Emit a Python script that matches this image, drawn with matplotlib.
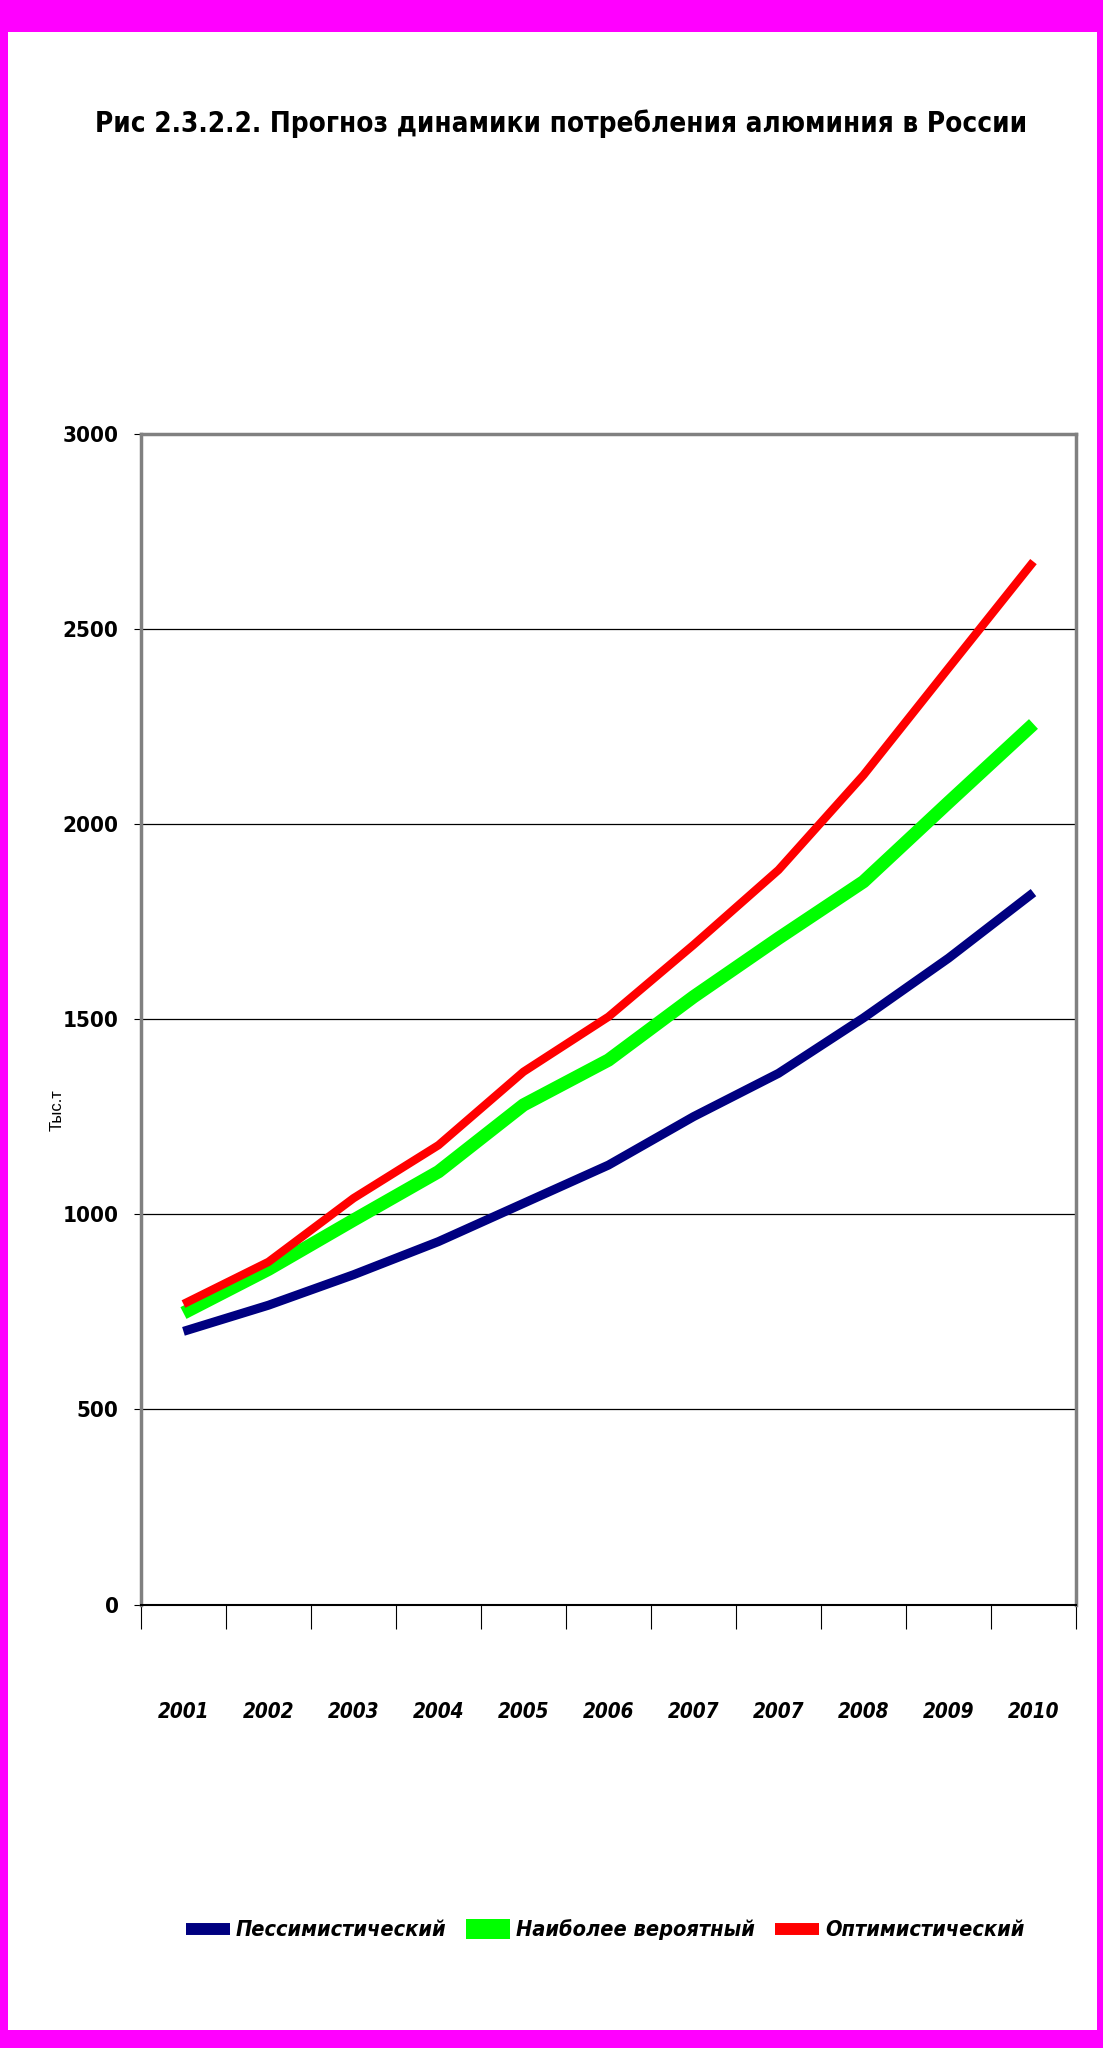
import matplotlib
matplotlib.use('Agg')
import matplotlib.pyplot as plt
from matplotlib import font_manager
from matplotlib.font_manager import FontProperties
from matplotlib.patches import Rectangle
import numpy as np

plt.rcParams['font.family'] = ['Liberation Sans', 'DejaVu Sans']

years = ['2001', '2002', '2003', '2004', '2005', '2006', '2007', '2007', '2008', '2009', '2010']
pess = [700, 767, 845, 930, 1028, 1126, 1250, 1361, 1503, 1656, 1824]
likely = [747, 859, 985, 1109, 1280, 1395, 1557, 1707, 1852, 2055, 2256]
optim = [770, 878, 1041, 1177, 1365, 1506, 1690, 1882, 2125, 2399, 2672]
labels = ['Пессимистический', 'Наиболее вероятный', 'Оптимистический']
title = 'Рис 2.3.2.2. Прогноз динамики потребления алюминия в России'


# look for a condensed / narrow face (reference uses a very narrow bold font)
def wnum(w):
    return font_manager.weight_dict.get(w, 400) if isinstance(w, str) else w


def snum(s):
    d = {'ultra-condensed': 50, 'extra-condensed': 62, 'condensed': 75, 'semi-condensed': 87}
    if isinstance(s, str):
        return d.get(s, 100)
    return s / 5 if s > 100 else s


def pick(italic):
    best = None
    for f in font_manager.fontManager.ttflist:
        narrow = snum(f.stretch) < 95 or 'Narrow' in f.name or 'Condensed' in f.name
        if not narrow or wnum(f.weight) < 600:
            continue
        if italic != (f.style in ('italic', 'oblique')):
            continue
        k = snum(f.stretch) if snum(f.stretch) < 95 else 80
        if best is None or k < best[0]:
            best = (k, f.fname)
    return best[1] if best else None


fb = pick(False)
fi = pick(True) or fb


def prop(italic, size):
    f = fi if italic else fb
    if f:
        return FontProperties(fname=f, size=size)
    return FontProperties(family='Liberation Sans', weight='bold',
                          style='italic' if italic else 'normal', size=size)


fig = plt.figure(figsize=(11.03, 20.48), dpi=100, facecolor='#ff00ff')
fig.patches.append(Rectangle((0.0077, 0.0088), 0.9869, 0.9756, transform=fig.transFigure,
                             facecolor='white', edgecolor='none', zorder=-1))

ax = fig.add_axes([0.1278, 0.2165, 0.8477, 0.5718])
x = np.arange(len(years))
l1, = ax.plot(x, pess, color='#000080', lw=6.5, solid_capstyle='butt', label=labels[0])
l2, = ax.plot(x, likely, color='#00ff00', lw=9.5, solid_capstyle='butt', label=labels[1])
l3, = ax.plot(x, optim, color='#ff0000', lw=6, solid_capstyle='butt', label=labels[2])

ax.set_xlim(-0.5, len(years) - 0.5)
ax.set_ylim(0, 3000)
ax.set_yticks(range(0, 3001, 500))
ax.yaxis.grid(True, color='black', lw=0.9)
ax.set_axisbelow(True)

ax.set_xticks(np.arange(-0.5, len(years), 1))
ax.set_xticklabels([])
ax.set_xticks(x, labels=years, minor=True)
ax.tick_params(axis='x', which='major', length=17, width=0.8, direction='out')
ax.tick_params(axis='x', which='minor', length=0, pad=70)
ax.tick_params(axis='y', length=5, width=0.8, pad=11)
for t in ax.get_xticklabels(minor=True):
    t.set_fontproperties(prop(True, 14))
for t in ax.get_yticklabels():
    t.set_fontproperties(prop(False, 14))

for s in ['top', 'right', 'left']:
    ax.spines[s].set_color('#808080')
    ax.spines[s].set_linewidth(2.5)
ax.spines['bottom'].set_color('black')
ax.spines['bottom'].set_linewidth(1.5)

ttl = fig.text(0.509, 1 - 124 / 2048, title, ha='center', va='center', fontproperties=prop(False, 30))
fig.text(0.052, 0.458, 'Тыс.т', rotation=90, fontsize=12, ha='center', va='center')


# scale text sizes so the widths match the reference
def width(t):
    fig.canvas.draw()
    return t.get_window_extent(fig.canvas.get_renderer()).width


ttl.set_fontsize(ttl.get_fontsize() * 933 / width(ttl))

xt = ax.get_xticklabels(minor=True)
xs = xt[0].get_fontsize() * 52 / width(xt[0])
for t in xt:
    t.set_fontsize(xs)

yt = ax.get_yticklabels()
ys = yt[-1].get_fontsize() * 56 / width(yt[-1])
for t in yt:
    t.set_fontsize(ys)


def make_legend(size):
    px = size * 100 / 72
    lg = fig.legend([l1, l2, l3], labels, loc='center', bbox_to_anchor=(605 / 1103, 1 - 1930 / 2048),
                    ncol=3, frameon=False, handlelength=44 / px, handletextpad=6 / px,
                    columnspacing=20 / px, borderpad=0, prop=prop(True, size))
    for h, w in zip(lg.legend_handles, [8.6, 14.4, 8.6]):
        h.set_linewidth(w)
        h.set_solid_capstyle('butt')
    return lg


size = 20
for _ in range(3):
    leg = make_legend(size)
    k = 840 / width(leg)
    leg.remove()
    size *= k
leg = make_legend(size)

fig.savefig('out.png', dpi=100, facecolor=fig.get_facecolor())
